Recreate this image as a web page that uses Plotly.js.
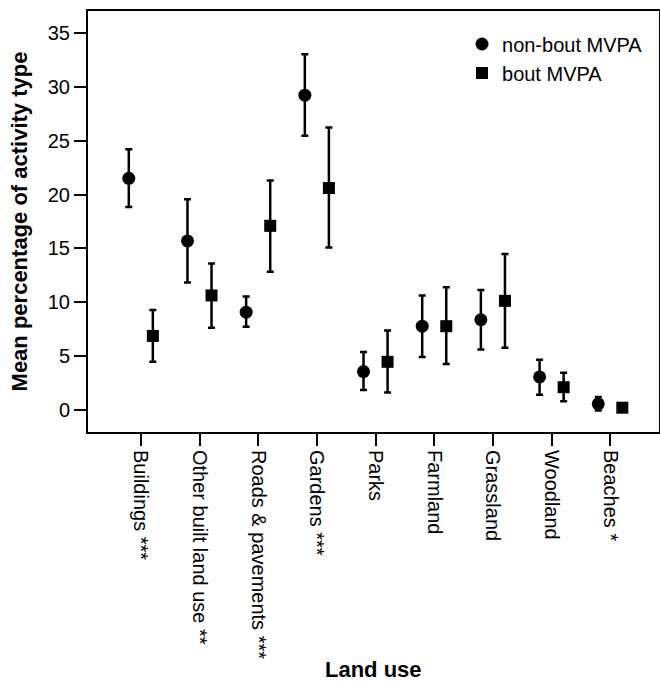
<!DOCTYPE html>
<html>
<head>
<meta charset="utf-8">
<script src="https://cdn.plot.ly/plotly-3.0.1.min.js"></script>
<style>html,body{margin:0;padding:0;background:#fff;}#chart{width:660px;height:681px;}</style>
</head>
<body>
<div id="chart"></div>
<script>
const landUse = ["Buildings ***", "Other built land use **", "Roads & pavements ***", "Gardens ***", "Parks", "Farmland", "Grassland", "Woodland", "Beaches *"];

const nonBoutMean  = [21.5, 15.7, 9.1, 29.2, 3.6, 7.8, 8.4, 3.1, 0.6];
const nonBoutUpper = [24.2, 19.55, 10.55, 33.0, 5.4, 10.65, 11.15, 4.7, 1.25];
const nonBoutLower = [18.85, 11.85, 7.75, 25.45, 1.9, 4.95, 5.65, 1.45, 0.0];

const boutMean  = [6.9, 10.65, 17.1, 20.6, 4.5, 7.8, 10.15, 2.15, 0.25];
const boutUpper = [9.3, 13.6, 21.3, 26.2, 7.4, 11.4, 14.5, 3.5, 0.4];
const boutLower = [4.5, 7.65, 12.85, 15.1, 1.65, 4.3, 5.8, 0.85, 0.1];

const yTicks = [0, 5, 10, 15, 20, 25, 30, 35];

const idx = landUse.map((_, i) => i);
const shift = 0.205;
const fontFam = "Liberation Sans, Arial, Helvetica, sans-serif";

function errY(mean, up, lo) {
  return {
    type: 'data', symmetric: false,
    array: up.map((u, i) => u - mean[i]),
    arrayminus: lo.map((l, i) => mean[i] - l),
    color: '#000', thickness: 2.5, width: 3.5
  };
}

const traces = [
  {
    type: 'scatter', mode: 'markers', name: 'non-bout MVPA',
    x: idx.map(i => i - shift), y: nonBoutMean,
    marker: {symbol: 'circle', size: 13, color: '#000'},
    error_y: errY(nonBoutMean, nonBoutUpper, nonBoutLower)
  },
  {
    type: 'scatter', mode: 'markers', name: 'bout MVPA',
    x: idx.map(i => i + shift), y: boutMean,
    marker: {symbol: 'square', size: 12, color: '#000'},
    error_y: errY(boutMean, boutUpper, boutLower)
  }
];

const layout = {
  width: 660, height: 681,
  margin: {l: 88, r: 1, t: 11, b: 249},
  paper_bgcolor: '#fff', plot_bgcolor: '#fff',
  font: {family: fontFam, color: '#000', size: 20},
  showlegend: true,
  legend: {
    x: 0.655, y: 0.968, xanchor: 'left', yanchor: 'top',
    bgcolor: 'rgba(0,0,0,0)', font: {size: 20, family: fontFam},
    tracegroupgap: 0
  },
  xaxis: {
    range: [-0.9, 8.83],
    tickvals: idx, ticktext: landUse,
    tickangle: 90,
    ticks: 'outside', ticklen: 12, tickwidth: 2, tickcolor: '#000',
    showline: true, linecolor: '#000', linewidth: 2, mirror: true,
    showgrid: false, zeroline: false,
    tickfont: {size: 20, family: fontFam},
    automargin: false
  },
  yaxis: {
    range: [-2, 37],
    tickvals: yTicks,
    ticks: 'outside', ticklen: 12, tickwidth: 2, tickcolor: '#000',
    showline: true, linecolor: '#000', linewidth: 2, mirror: true,
    showgrid: false, zeroline: false,
    tickfont: {size: 20, family: fontFam},
    title: {text: '<b>Mean percentage of activity type</b>', font: {size: 22, family: fontFam}, standoff: 14},
    automargin: false
  },
  annotations: [
    {
      text: '<b>Land use</b>', xref: 'paper', yref: 'paper',
      x: 0.5, y: -(669 - 432) / 421, xanchor: 'center', yanchor: 'middle',
      showarrow: false, font: {size: 22, family: fontFam}
    }
  ]
};

Plotly.newPlot('chart', traces, layout, {displayModeBar: false, staticPlot: true});
</script>
</body>
</html>
